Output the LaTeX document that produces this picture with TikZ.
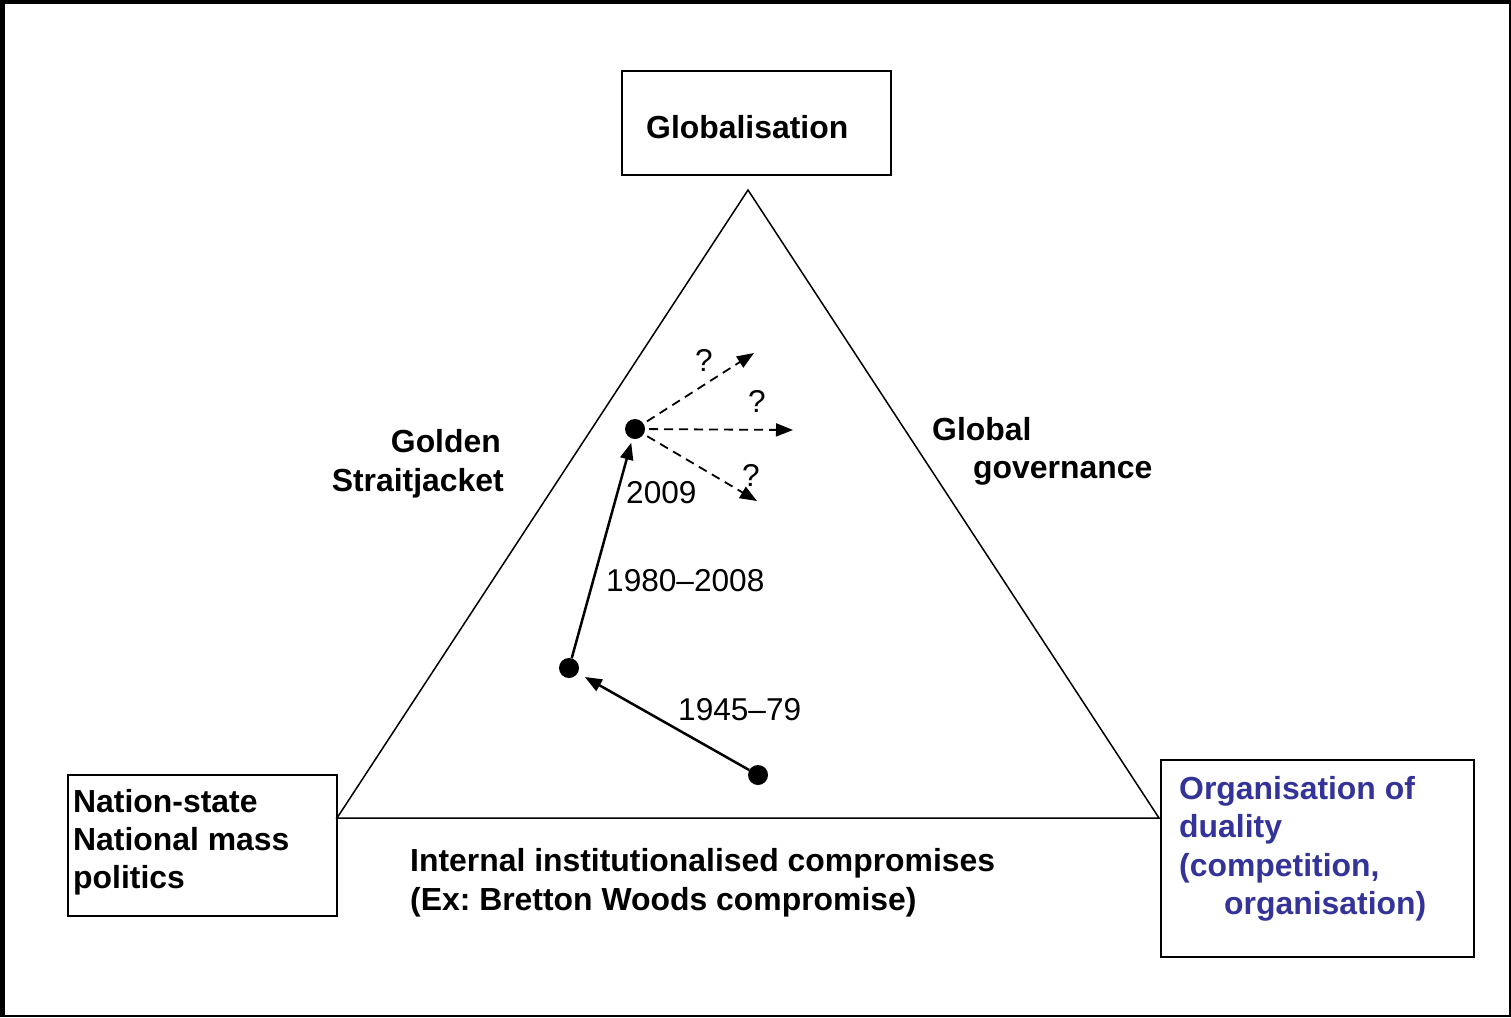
\documentclass[tikz,border=0pt]{standalone}
\usepackage{fontspec}
\setmainfont{Liberation Sans}
\usetikzlibrary{arrows.meta}
\definecolor{dualblue}{RGB}{51,51,153}
\frenchspacing
\begin{document}
\begin{tikzpicture}[x=1pt,y=-1pt,
  box/.style={draw, line width=2pt, inner sep=0pt, anchor=north west},
  lbl/.style={inner sep=0pt, anchor=base west, font=\fontsize{31.6}{38}\selectfont},
  blbl/.style={lbl, font=\fontsize{31.9}{38}\selectfont\bfseries},
  dot/.style={circle, fill, inner sep=0pt, minimum size=20pt},
  trend/.style={line width=2.5pt, -{Triangle[length=17pt,width=13pt]}},
  maybe/.style={line width=1.8pt, dash pattern=on 9pt off 6pt, -{Triangle[length=17pt,width=13pt]}},
]
\useasboundingbox (0,0) rectangle (1511,1017);

% page frame
\fill (0,0) rectangle (5,1017);
\fill (0,0) rectangle (1511,4);
\draw[line width=1.5pt] (1510,0) -- (1510,1016) -- (0,1016);

% corner boxes
\node[box, minimum width=269pt, minimum height=104pt] (glob) at (620.5,69.5) {};
\node[box, minimum width=269pt, minimum height=141pt] (nation) at (66.5,773.5) {};
\node[box, minimum width=313pt, minimum height=197pt] (duality) at (1159.5,758.5) {};

% triangle
\coordinate (top) at (748,190);
\coordinate (left) at (337,818);
\coordinate (right) at (1159,818);
\draw[line width=1.5pt] (top) -- (left) -- (right) -- cycle;

% box texts
\node[blbl] (globtxt) at (646,138) {Globalisation};
\node[blbl] (nat1) at (73,812) {Nation-state};
\node[blbl] (nat2) at (73,850) {National mass};
\node[blbl] (nat3) at (73,888) {politics};
\node[blbl, text=dualblue] (dua1) at (1179,799) {Organisation of};
\node[blbl, text=dualblue] (dua2) at (1179,837) {duality};
\node[blbl, text=dualblue] (dua3) at (1179,876) {(competition,};
\node[blbl, text=dualblue] (dua4) at (1224,914) {organisation)};

% side labels
\node[blbl, anchor=base east] (gold1) at (501,452) {Golden};
\node[blbl, anchor=base east] (gold2) at (504,491) {Straitjacket};
\node[blbl] (gov1) at (932,440) {Global};
\node[blbl] (gov2) at (973,478) {governance};
\node[blbl] (int1) at (410,871) {Internal institutionalised compromises};
\node[blbl] (int2) at (410,910) {(Ex: Bretton Woods compromise)};

% trajectory
\node[dot] (d1) at (758,775) {};
\node[dot] (d2) at (569,668) {};
\node[dot] (d3) at (635,429) {};
\draw[trend, shorten >=8pt] (d1) -- (d2);
\draw[trend, shorten >=4pt] (d2) -- (d3);
\node[lbl] (p1) at (678,720) {1945–79};
\node[lbl] (p2) at (606,591) {1980–2008};
\node[lbl] (p3) at (626,503) {2009};

% possible futures
\coordinate (q1) at (754,353);
\coordinate (q2) at (793,430);
\coordinate (q3) at (757,501);
\draw[maybe, shorten <=4pt] (d3) -- (q1);
\draw[maybe, shorten <=4pt] (d3) -- (q2);
\draw[maybe, shorten <=4pt] (d3) -- (q3);
\node[lbl] (m1) at (695,371) {?};
\node[lbl] (m2) at (748,412) {?};
\node[lbl] (m3) at (742,486) {?};
\end{tikzpicture}
\end{document}
